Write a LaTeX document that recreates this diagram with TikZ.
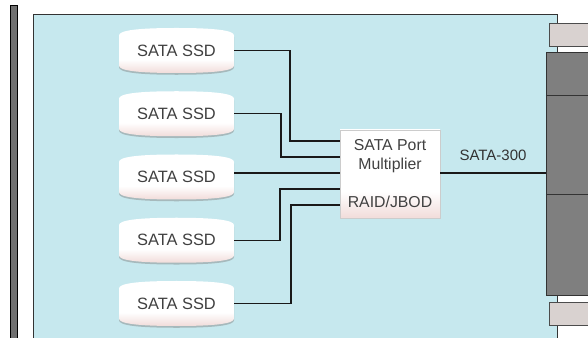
\documentclass[tikz,border=0pt]{standalone}
\usepackage{fontspec}
\setmainfont{Liberation Sans}
\usetikzlibrary{calc,shadows}
\definecolor{panelblue}{RGB}{198,232,238}
\definecolor{latchbeige}{RGB}{217,210,208}
\definecolor{slotgray}{RGB}{127,127,127}
\definecolor{bargray}{RGB}{112,112,112}
\definecolor{ssdpink}{RGB}{242,222,220}
\definecolor{textgray}{RGB}{64,64,64}
% white face, pink only near the bottom
\pgfdeclareverticalshading{whiteface}{100bp}{color(0bp)=(ssdpink); color(26bp)=(ssdpink); color(40bp)=(white); color(100bp)=(white)}
% outline of one SSD can, local coordinates (px)
\newcommand\ssdoutline{(-57.5,-15) -- (-57.5,15)
  .. controls (-57.5,20) and (-40,22.5) .. (0,22.5)
  .. controls (40,22.5) and (57.5,20) .. (57.5,15) -- (57.5,-15)
  .. controls (57.5,-20) and (40,-22.5) .. (0,-22.5)
  .. controls (-40,-22.5) and (-57.5,-20) .. cycle}
\begin{document}
\begin{tikzpicture}[
    x=0.03cm, y=0.03cm,
    ssd/.style={minimum width=3.45cm, minimum height=1.35cm, inner sep=0pt, text=textgray, font=\fontsize{14}{16}\selectfont},
    muxbox/.style={draw=gray!40, shading=whiteface, minimum width=3cm, minimum height=2.64cm, align=center, inner sep=0pt, text=textgray, font=\fontsize{13.5}{16.2}\selectfont, drop shadow={shadow xshift=1pt, shadow yshift=-1.2pt, opacity=0.35}},
    slotbox/.style={draw=black!80, fill=slotgray, minimum width=1.32cm, minimum height=7.29cm, inner sep=0pt},
    latch/.style={draw=black!70, fill=latchbeige, minimum width=1.23cm, minimum height=0.7cm, inner sep=0pt},
    wire/.style={draw=black!90, line width=1.2pt}
  ]
  \useasboundingbox (0,0) rectangle (588,338);
  \clip (0,0) rectangle (588,338);
  % carrier board and rail
  \draw[black!80, fill=panelblue, line width=0.6pt] (33,-5) rectangle (557,324);
  \draw[black, fill=bargray, line width=0.6pt] (10,-5) rectangle (17,333);
  % connector at the right
  \node[latch] (latchtop) at (569.5,303) {};
  \node[latch] (latchbot) at (569.5,24.5) {};
  \node[slotbox] (slot) at (568,164.5) {};
  \draw[black!80, line width=0.8pt] (slot.west |- 0,243) -- (slot.east |- 0,243);
  \draw[black!80, line width=0.8pt] (slot.west |- 0,144) -- (slot.east |- 0,144);
  % SSDs
  \foreach \i in {1,...,5} {
    \pgfmathsetmacro\cy{287.5-63.25*(\i-1)}
    \begin{scope}[shift={(176.5,\cy)}]
      \fill[gray, opacity=0.45] [yshift=-1.5pt] \ssdoutline;
      \shade[shading=whiteface] \ssdoutline;
    \end{scope}
    \node[ssd] (ssd\i) at (176.5,\cy) {SATA SSD};
  }
  % port multiplier
  \node[muxbox] (mux) at (390,164) {SATA Port\\Multiplier\\[16.2pt]RAID/JBOD};
  \foreach \i in {1,...,5}
    \coordinate (in\i) at ($(mux.west)+(0,{(3-\i)*16+1})$);
  \foreach \i/\vx in {1/290,2/281,4/280,5/291} {
    \coordinate (bend\i) at (\vx,0);
    \draw[wire] (ssd\i.east) -| (bend\i |- in\i) -- (in\i);
  }
  \draw[wire] (ssd3.east |- in3) -- (in3);
  % host link
  \draw[wire] (mux.east |- in3) -- (slot.west |- in3)
    node[midway, yshift=0.54cm, text=black!80, font=\fontsize{12.8}{15}\selectfont] {SATA-300};
\end{tikzpicture}
\end{document}
